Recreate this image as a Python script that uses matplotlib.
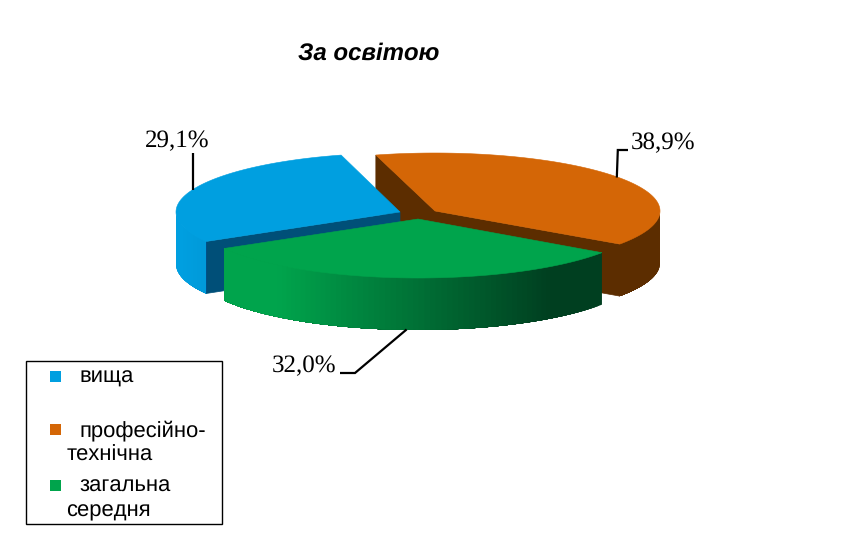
import numpy as np
import matplotlib
matplotlib.use("Agg")
import matplotlib.pyplot as plt
from matplotlib.colors import to_rgb
from matplotlib.patches import Polygon, Rectangle

plt.rcParams["text.hinting"] = "none"
plt.rcParams["text.hinting_factor"] = 1

categories = ["вища", "професійно-\nтехнічна", "загальна\nсередня"]
values = [29.1, 38.9, 32.0]
title = "За освітою"

top_colors = ["#009FE0", "#D46606", "#00A44C"]
face_colors = ["#004F78", "#5C2D00", "#00502A"]
rim_left = ["#009FE0", "#5C2D00", "#00A44C"]
rim_right = ["#009ADA", "#5C2D00", "#003F20"]
centers = [(400, 212), (435, 211), (418, 219)]
radii = [(224, 59), (225, 58), (224, 59)]
depth = 52
start_angle = 240.0

fig = plt.figure(figsize=(8.68, 5.54), dpi=100, facecolor="white")
ax = fig.add_axes([0, 0, 1, 1])
ax.set_xlim(0, 868)
ax.set_ylim(554, 0)
ax.axis("off")


def pt(c, r, t, dz=0):
    a = np.radians(t)
    return np.column_stack([c[0] + r[0] * np.sin(a), c[1] - r[1] * np.cos(a) + dz])


def mix(a, b, f):
    a, b = np.array(to_rgb(a)), np.array(to_rgb(b))
    return tuple(a + (b - a) * f)


spans = []
t0 = start_angle
for v in values:
    t1 = t0 + v / sum(values) * 360
    spans.append((t0, t1))
    t0 = t1

draw_order = [1, 0, 2]
anchors = {}

for z, i in enumerate(draw_order):
    a0, a1 = spans[i]
    c, r = centers[i], radii[i]
    ts = np.linspace(a0, a1, 240)
    # cut faces that look towards the viewer
    for t, visible in ((a0, np.sin(np.radians(a0)) < 0), (a1, np.sin(np.radians(a1)) > 0)):
        if visible:
            e = pt(c, r, np.array([t]))[0]
            ax.add_patch(Polygon([c, e, (e[0], e[1] + depth), (c[0], c[1] + depth)],
                                 closed=True, fc=face_colors[i], ec=face_colors[i], lw=0.5,
                                 zorder=1 + z))
    # rim, shaded along its length; each piece overlaps the next so no seams appear
    sweep = (ts + 360) % 360
    front = np.sort(sweep[np.cos(np.radians(sweep)) <= 0.0])
    if i == 0:
        front = front[::-1]
    xs = pt(c, r, front)[:, 0]
    xmin, xmax = xs.min(), xs.max()
    step = 3
    for k in range(0, len(front) - 1, step):
        seg = front[k:]
        up = pt(c, r, seg)
        dn = pt(c, r, seg, depth)[::-1]
        f = (up[0, 0] - xmin) / (xmax - xmin + 1e-9)
        f = np.clip((f - 0.15) / 0.72, 0, 1)
        col = mix(rim_left[i], rim_right[i], f)
        ax.add_patch(Polygon(np.vstack([up, dn]), closed=True, fc=col, ec="none",
                             zorder=1 + z + k * 1e-4))
    # top
    outline = np.vstack([[c], pt(c, r, ts)])
    ax.add_patch(Polygon(outline, closed=True, fc=top_colors[i], ec=top_colors[i], lw=0.4,
                         zorder=1.5 + z))
    mid = (a0 + a1) / 2
    dz = depth if np.cos(np.radians(mid)) < 0 else 0
    anchors[i] = pt(c, r, np.array([mid]), dz)[0]

labels = [f"{v:.1f}".replace(".", ",") + "%" for v in values]
serif = "Liberation Serif"
lk = dict(color="black", lw=1.6, zorder=6, solid_capstyle="butt", solid_joinstyle="miter")

# leaders and labels
a = anchors[0]
ax.plot([a[0], a[0]], [153, a[1]], **lk)
ax.text(177.5, 141, labels[0], family=serif, fontsize=17.9, ha="center", va="center", color="black")
a = anchors[1]
ax.plot([628, a[0] - 1, a[0] - 2], [150, 150, a[1]], **lk)
ax.text(663.5, 143, labels[1], family=serif, fontsize=17.9, ha="center", va="center", color="black")
a = anchors[2]
ax.plot([340, 355, a[0] - 2], [373, 373, a[1] - 0.5], **lk)
ax.text(304.5, 366, labels[2], family=serif, fontsize=17.9, ha="center", va="center", color="black")

ax.text(369, 53.5, title, family="Liberation Sans", fontsize=17.6, weight="bold", style="italic",
        ha="center", va="center", color="black")

# legend
ax.add_patch(Rectangle((26, 360.5), 195.5, 163.5, fc="white", ec="black", lw=1.0, zorder=7))
marker_y = [376, 429, 485]
text_rows = [[(79, 377)], [(79, 431), (66.5, 455)], [(79, 486), (66.5, 511)]]
for i, name in enumerate(categories):
    ax.add_patch(Rectangle((50, marker_y[i] - 5), 10.5, 10.5, fc=top_colors[i], ec="none", zorder=8))
    for (x, y), line in zip(text_rows[i], name.split("\n")):
        ax.text(x, y, line, family="Liberation Sans", fontsize=15.7, ha="left", va="center",
                color="black", zorder=8)

fig.savefig("out.png", dpi=100, facecolor="white")
